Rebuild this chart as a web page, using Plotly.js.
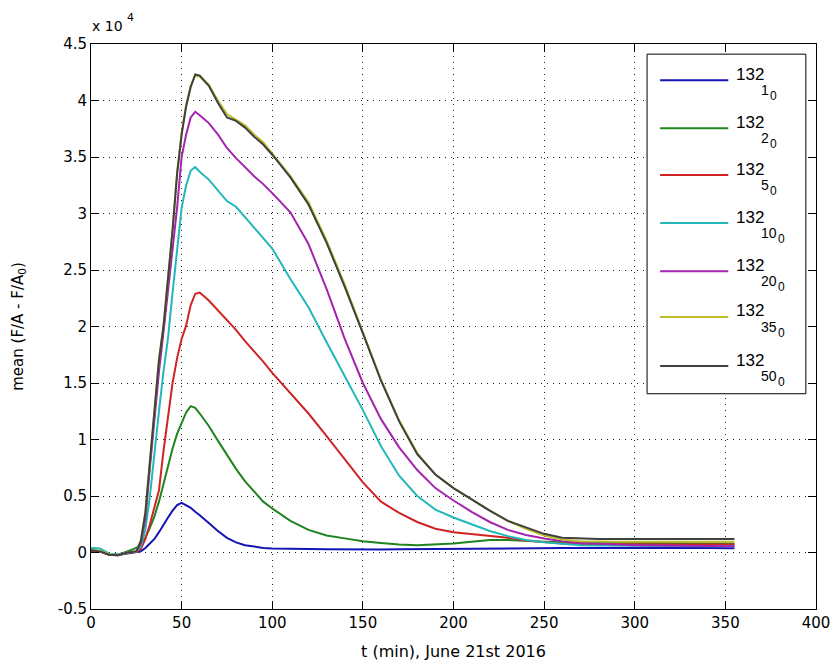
<!DOCTYPE html>
<html>
<head>
<meta charset="utf-8">
<script src="https://cdn.plot.ly/plotly-3.0.1.min.js"></script>
<style>body{margin:0;background:#fff}#chart{width:832px;height:671px}</style>
</head>
<body>
<div id="chart"></div>
<script>
// time axis (min)
const t = [0,5,10,15,20,25,27.5,30,32.5,35,37.5,40,42.5,45,47.5,50,52.5,55,57.5,60,65,70,75,80,85,90,95,100,110,120,130,140,150,160,170,180,190,200,210,220,230,240,250,260,270,280,290,300,310,320,330,340,350,355];

// legend labels: base, subscript, sub-subscript
const labelBase = "132";
const labelSub = ["1","2","5","10","20","35","50"];
const labelSubSub = "0";
const seriesColors = ["#1414B4","#1E841E","#D02424","#22B8B8","#A424B0","#BEBE28","#404040"];

const s1 = [150,100,-150,-200,-100,0,100,400,800,1200,1800,2500,3100,3700,4200,4400,4200,3950,3600,3300,2600,1900,1300,900,650,500,400,350,300,300,280,260,260,270,280,300,300,320,330,340,350,370,380,400,400,410,420,420,410,400,400,390,380,380];
const s2 = [200,100,-150,-200,100,400,700,1300,2200,3200,4500,6100,7700,9200,10500,11500,12400,12950,12800,12300,11200,9900,8600,7400,6300,5400,4500,3900,2800,2000,1500,1250,1000,850,700,650,700,800,950,1100,1100,1000,950,900,880,860,850,830,820,810,800,800,790,780];
const s5 = [200,100,-200,-250,0,50,300,1200,2500,4000,5500,9000,12000,15000,17200,18900,20100,21900,22900,23000,22300,21400,20600,19700,18700,17800,16900,15900,14100,12300,10300,8200,6200,4500,3500,2700,2100,1800,1650,1500,1300,1050,900,800,750,730,720,710,700,700,700,700,700,700];
const s10 = [400,350,-100,-200,0,100,500,2000,5000,9000,12500,16000,19000,23000,27000,30500,32500,33800,34100,33700,33000,32000,31100,30600,29700,28700,27800,26900,24200,21700,18600,15600,12600,9400,6800,5000,3800,3100,2500,1900,1450,1100,900,750,650,620,600,600,590,580,570,560,550,550];
const s20 = [250,100,-200,-250,0,100,800,3000,7500,12000,16000,19500,23000,27000,30500,35000,37000,38500,39000,38700,38000,37000,35800,34900,34100,33300,32600,31800,30100,27300,23300,18900,15000,11800,9300,7300,5700,4600,3600,2700,2000,1550,1240,1000,850,750,700,650,620,600,580,560,550,550];
const s35 = [250,150,-150,-250,0,100,1100,3600,8100,12600,17100,20100,24100,28600,33600,37100,39600,41300,42200,42100,41400,40000,38800,38300,37800,37000,36300,35300,33300,31000,27600,23700,19500,15300,11700,8800,6900,5700,4700,3700,2800,2100,1500,1150,1000,950,950,950,950,950,950,950,950,950];
const s50 = [200,100,-200,-250,0,100,1000,3500,8000,12500,17000,20000,24000,28500,33500,37000,39500,41200,42300,42200,41300,39800,38500,38200,37600,36800,36100,35200,33200,30800,27400,23500,19400,15200,11600,8700,6900,5700,4700,3700,2800,2200,1650,1300,1240,1200,1200,1200,1200,1200,1200,1200,1200,1200];

const yTickVals = [-5000,0,5000,10000,15000,20000,25000,30000,35000,40000,45000];
const yTickText = ["-0.5","0","0.5","1","1.5","2","2.5","3","3.5","4","4.5"];
const xTickVals = [0,50,100,150,200,250,300,350,400];

const FONT = 'DejaVu Sans, Liberation Sans, Arial';
const LFONT = 'Liberation Sans, Arial';

const allSeries = [s1,s2,s5,s10,s20,s35,s50];
const traces = allSeries.map((ys,i)=>({
  x: t, y: ys, type:'scatter', mode:'lines', name: labelBase + labelSub[i] + labelSubSub,
  line:{color: seriesColors[i], width:2}, showlegend:false
}));

// custom legend (MATLAB style box)
const legX0 = 0.767, legX1 = 0.986, legY0 = 0.381, legY1 = 0.982;
const rowY = [0.936,0.851,0.768,0.683,0.598,0.517,0.430];
const shapes = [{type:'rect', xref:'paper', yref:'paper', x0:legX0, x1:legX1, y0:legY0, y1:legY1,
  line:{color:'#000', width:1}, fillcolor:'#fff', layer:'above'}];
const annotations = [
  {xref:'paper', yref:'paper', x:0, y:1, xanchor:'left', yanchor:'bottom', yshift:8, xshift:-1,
   text:'x 10', showarrow:false, font:{family:FONT, size:14, color:'#000'}},
  {xref:'paper', yref:'paper', x:0, y:1, xanchor:'left', yanchor:'bottom', yshift:18, xshift:34,
   text:'4', showarrow:false, font:{family:FONT, size:11, color:'#000'}}
];
const textX = 0.889;
labelSub.forEach((sub,i)=>{
  shapes.push({type:'line', xref:'paper', yref:'paper', x0:0.785, x1:0.879, y0:rowY[i], y1:rowY[i],
    line:{color:seriesColors[i], width:2}, layer:'above'});
  annotations.push({xref:'paper', yref:'paper', x:textX, y:rowY[i], xanchor:'left', yanchor:'middle', yshift:6, xshift:-2,
    text:labelBase, showarrow:false, font:{family:LFONT, size:17, color:'#000'}});
  annotations.push({xref:'paper', yref:'paper', x:textX, y:rowY[i], xanchor:'left', yanchor:'middle', yshift:-10, xshift:23,
    text:sub, showarrow:false, font:{family:LFONT, size:14, color:'#000'}});
  annotations.push({xref:'paper', yref:'paper', x:textX, y:rowY[i], xanchor:'left', yanchor:'middle', yshift:-16, xshift:23 + sub.length*7.8 + 2,
    text:labelSubSub, showarrow:false, font:{family:LFONT, size:12, color:'#000'}});
});

const layout = {
  width:832, height:671,
  margin:{l:91, r:16, t:44, b:62},
  paper_bgcolor:'#fff', plot_bgcolor:'#fff',
  font:{family:FONT, size:15, color:'#000'},
  xaxis:{range:[0,400], tickvals:xTickVals, ticks:'inside', ticklen:8, tickcolor:'#000',
    tickfont:{family:FONT, size:15},
    showline:true, linecolor:'#000', linewidth:1, mirror:'ticks', zeroline:false,
    showgrid:true, gridcolor:'#222', griddash:'1px,5px', gridwidth:1,
    title:{text:'t (min), June 21st 2016', font:{family:FONT, size:16}, standoff:14}},
  yaxis:{range:[-5000,45000], tickvals:yTickVals, ticktext:yTickText, ticks:'inside', ticklen:8, tickcolor:'#000',
    tickfont:{family:FONT, size:15},
    showline:true, linecolor:'#000', linewidth:1, mirror:'ticks', zeroline:false,
    showgrid:true, gridcolor:'#222', griddash:'1px,5px', gridwidth:1,
    title:{text:'mean (F/A - F/A<sub>0</sub>)', font:{family:FONT, size:15}, standoff:30}},
  shapes: shapes,
  annotations: annotations
};
Plotly.newPlot('chart', traces, layout, {displayModeBar:false, staticPlot:true});
</script>
</body>
</html>
